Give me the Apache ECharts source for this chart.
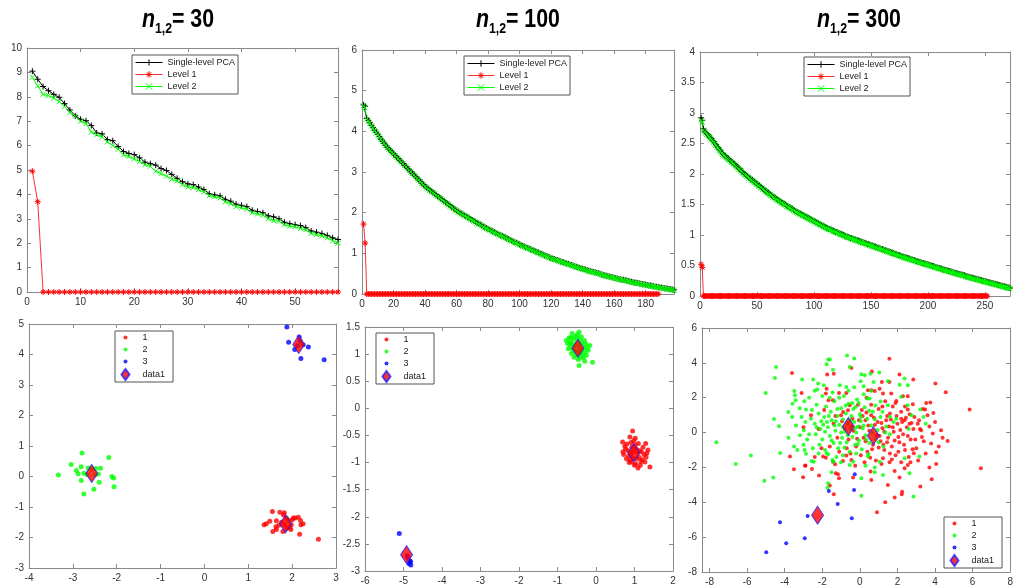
<!DOCTYPE html>
<html>
<head>
<meta charset="utf-8">
<script src="https://cdn.jsdelivr.net/npm/echarts@6/dist/echarts.min.js"></script>
<style>
html, body { margin: 0; padding: 0; background: #fff; }
#chart { width: 1016px; height: 588px; }
</style>
</head>
<body>
<div id="chart"></div>
<script>
// ---- eigenvalue curves (index 1..N) ----
var pca30 = [9.05,8.72,8.42,8.25,8.10,7.98,7.72,7.46,7.22,7.08,
  7.02,6.82,6.52,6.48,6.25,6.20,5.96,5.76,5.68,5.63,
  5.50,5.32,5.26,5.20,5.06,4.98,4.82,4.66,4.52,4.43,
  4.40,4.30,4.20,4.03,3.98,3.94,3.80,3.72,3.60,3.55,
  3.50,3.35,3.30,3.25,3.12,3.08,3.00,2.86,2.80,2.76,
  2.72,2.64,2.50,2.45,2.40,2.32,2.22,2.15];
var lv1_30 = [4.95,3.70,0,0,0,0,0,0,0,0,
  0,0,0,0,0,0,0,0,0,0, 0,0,0,0,0,0,0,0,0,0,
  0,0,0,0,0,0,0,0,0,0, 0,0,0,0,0,0,0,0,0,0,
  0,0,0,0,0,0,0,0];
var lv2_30 = [8.80,8.45,8.10,8.05,7.95,7.80,7.60,7.35,7.20,7.00,
  6.90,6.55,6.45,6.35,6.15,6.00,5.85,5.62,5.55,5.45,
  5.35,5.22,5.15,4.95,4.85,4.75,4.62,4.55,4.40,4.30,
  4.28,4.20,4.10,3.95,3.90,3.85,3.70,3.62,3.50,3.45,
  3.40,3.25,3.20,3.15,3.00,2.92,2.90,2.75,2.70,2.68,
  2.60,2.55,2.40,2.35,2.30,2.22,2.10,2.00];

var pca100 = [4.65,4.62,4.32,4.27,4.21,4.15,4.09,4.03,3.98,3.93,
  3.87,3.81,3.76,3.71,3.66,3.61,3.57,3.53,3.49,3.45,
  3.41,3.37,3.33,3.29,3.25,3.21,3.17,3.13,3.09,3.05,
  3.01,2.97,2.93,2.89,2.85,2.81,2.77,2.73,2.69,2.65,
  2.62,2.59,2.56,2.53,2.50,2.47,2.44,2.41,2.38,2.35,
  2.32,2.29,2.26,2.23,2.20,2.17,2.14,2.11,2.08,2.05,
  2.03,2.00,1.98,1.96,1.93,1.91,1.89,1.87,1.84,1.82,
  1.80,1.78,1.75,1.73,1.71,1.69,1.66,1.64,1.62,1.60,
  1.58,1.56,1.54,1.52,1.50,1.48,1.46,1.44,1.43,1.41,
  1.39,1.37,1.35,1.33,1.31,1.29,1.27,1.26,1.24,1.22,
  1.20,1.18,1.17,1.15,1.13,1.12,1.10,1.08,1.07,1.05,
  1.03,1.02,1.00,0.98,0.97,0.95,0.93,0.92,0.90,0.88,
  0.87,0.86,0.84,0.83,0.82,0.80,0.79,0.78,0.76,0.75,
  0.74,0.72,0.71,0.70,0.68,0.67,0.66,0.64,0.63,0.62,
  0.61,0.60,0.58,0.57,0.56,0.55,0.54,0.53,0.52,0.51,
  0.50,0.48,0.47,0.46,0.45,0.44,0.43,0.42,0.41,0.40,
  0.39,0.38,0.37,0.36,0.35,0.35,0.34,0.33,0.32,0.31,
  0.30,0.29,0.28,0.28,0.27,0.26,0.25,0.24,0.24,0.23,
  0.22,0.21,0.21,0.20,0.19,0.18,0.18,0.17,0.16,0.16,
  0.15,0.14,0.14,0.13,0.12,0.12,0.11,0.10];
var lv1_100 = [1.72,1.25,0,0,0,0,0,0,0,0,
  0,0,0,0,0,0,0,0,0,0, 0,0,0,0,0,0,0,0,0,0,
  0,0,0,0,0,0,0,0,0,0, 0,0,0,0,0,0,0,0,0,0,
  0,0,0,0,0,0,0,0,0,0, 0,0,0,0,0,0,0,0,0,0,
  0,0,0,0,0,0,0,0,0,0, 0,0,0,0,0,0,0,0,0,0,
  0,0,0,0,0,0,0,0,0,0, 0,0,0,0,0,0,0,0,0,0,
  0,0,0,0,0,0,0,0,0,0, 0,0,0,0,0,0,0,0,0,0,
  0,0,0,0,0,0,0,0,0,0, 0,0,0,0,0,0,0,0,0,0,
  0,0,0,0,0,0,0,0,0,0, 0,0,0,0,0,0,0,0,0,0,
  0,0,0,0,0,0,0,0,0,0, 0,0,0,0,0,0,0,0];
var lv2_100 = [4.63,4.58,4.30,4.25,4.19,4.13,4.07,4.02,3.96,3.91,
  3.86,3.80,3.75,3.70,3.65,3.60,3.56,3.52,3.48,3.44,
  3.40,3.36,3.32,3.28,3.24,3.20,3.16,3.12,3.08,3.04,
  3.00,2.96,2.92,2.88,2.84,2.80,2.76,2.72,2.68,2.64,
  2.61,2.58,2.55,2.52,2.49,2.46,2.43,2.40,2.37,2.34,
  2.31,2.28,2.25,2.22,2.19,2.16,2.13,2.10,2.07,2.04,
  2.02,1.99,1.97,1.95,1.92,1.90,1.88,1.86,1.83,1.81,
  1.79,1.77,1.74,1.72,1.70,1.68,1.65,1.63,1.61,1.59,
  1.57,1.55,1.53,1.51,1.49,1.47,1.45,1.43,1.42,1.40,
  1.38,1.36,1.34,1.32,1.30,1.28,1.26,1.25,1.23,1.21,
  1.19,1.17,1.16,1.14,1.12,1.11,1.09,1.07,1.06,1.04,
  1.02,1.01,0.99,0.97,0.96,0.94,0.92,0.91,0.89,0.87,
  0.86,0.85,0.83,0.82,0.81,0.79,0.78,0.77,0.75,0.74,
  0.73,0.71,0.70,0.69,0.67,0.66,0.65,0.63,0.62,0.61,
  0.60,0.59,0.57,0.56,0.55,0.54,0.53,0.52,0.51,0.50,
  0.49,0.47,0.46,0.45,0.44,0.43,0.42,0.41,0.40,0.39,
  0.38,0.37,0.36,0.35,0.34,0.34,0.33,0.32,0.31,0.30,
  0.29,0.28,0.27,0.27,0.26,0.25,0.24,0.23,0.23,0.22,
  0.21,0.20,0.20,0.19,0.18,0.17,0.17,0.16,0.15,0.15,
  0.14,0.13,0.13,0.12,0.11,0.11,0.10,0.09];

var pca300 = [2.92,2.88,2.74,2.70,2.68,2.66,2.64,2.62,2.60,2.58,
  2.55,2.53,2.50,2.48,2.45,2.43,2.40,2.38,2.35,2.33,
  2.31,2.30,2.28,2.26,2.25,2.23,2.21,2.20,2.18,2.17,
  2.15,2.13,2.11,2.09,2.08,2.06,2.04,2.02,2.00,1.99,
  1.97,1.96,1.94,1.93,1.91,1.90,1.88,1.87,1.85,1.84,
  1.82,1.81,1.79,1.78,1.76,1.75,1.73,1.72,1.70,1.69,
  1.67,1.66,1.65,1.63,1.62,1.61,1.59,1.58,1.57,1.56,
  1.54,1.53,1.52,1.51,1.50,1.48,1.47,1.46,1.45,1.44,
  1.43,1.41,1.40,1.39,1.38,1.37,1.36,1.35,1.34,1.33,
  1.32,1.31,1.30,1.29,1.28,1.27,1.26,1.25,1.24,1.23,
  1.22,1.21,1.20,1.19,1.18,1.17,1.16,1.15,1.14,1.13,
  1.12,1.11,1.10,1.10,1.09,1.08,1.07,1.06,1.05,1.05,
  1.04,1.03,1.02,1.01,1.01,1.00,0.99,0.98,0.97,0.97,
  0.96,0.95,0.95,0.94,0.93,0.93,0.92,0.91,0.91,0.90,
  0.89,0.89,0.88,0.87,0.87,0.86,0.85,0.85,0.84,0.83,
  0.83,0.82,0.81,0.81,0.80,0.79,0.79,0.78,0.77,0.77,
  0.76,0.75,0.75,0.74,0.73,0.73,0.72,0.71,0.71,0.70,
  0.69,0.69,0.68,0.67,0.67,0.66,0.65,0.65,0.64,0.63,
  0.63,0.62,0.62,0.61,0.60,0.60,0.59,0.59,0.58,0.57,
  0.57,0.56,0.56,0.55,0.54,0.54,0.53,0.53,0.52,0.52,
  0.51,0.50,0.50,0.49,0.49,0.48,0.47,0.47,0.46,0.46,
  0.45,0.45,0.44,0.43,0.43,0.42,0.42,0.41,0.41,0.40,
  0.40,0.39,0.38,0.38,0.37,0.37,0.36,0.36,0.35,0.35,
  0.34,0.34,0.33,0.32,0.32,0.31,0.31,0.30,0.30,0.29,
  0.29,0.28,0.28,0.27,0.27,0.26,0.26,0.25,0.25,0.24,
  0.24,0.23,0.23,0.22,0.22,0.21,0.21,0.20,0.20,0.19,
  0.19,0.18,0.18,0.17,0.17,0.16,0.16,0.15,0.15,0.14,
  0.14,0.13];
var lv1_300 = [0.52,0.47,0,0,0,0,0,0,0,0,
  0,0,0,0,0,0,0,0,0,0, 0,0,0,0,0,0,0,0,0,0,
  0,0,0,0,0,0,0,0,0,0, 0,0,0,0,0,0,0,0,0,0,
  0,0,0,0,0,0,0,0,0,0, 0,0,0,0,0,0,0,0,0,0,
  0,0,0,0,0,0,0,0,0,0, 0,0,0,0,0,0,0,0,0,0,
  0,0,0,0,0,0,0,0,0,0, 0,0,0,0,0,0,0,0,0,0,
  0,0,0,0,0,0,0,0,0,0, 0,0,0,0,0,0,0,0,0,0,
  0,0,0,0,0,0,0,0,0,0, 0,0,0,0,0,0,0,0,0,0,
  0,0,0,0,0,0,0,0,0,0, 0,0,0,0,0,0,0,0,0,0,
  0,0,0,0,0,0,0,0,0,0, 0,0,0,0,0,0,0,0,0,0,
  0,0,0,0,0,0,0,0,0,0, 0,0,0,0,0,0,0,0,0,0,
  0,0,0,0,0,0,0,0,0,0, 0,0,0,0,0,0,0,0,0,0,
  0,0,0,0,0,0,0,0,0,0, 0,0,0,0,0,0,0,0,0,0,
  0,0];
var lv2_300 = [2.88,2.85,2.72,2.69,2.67,2.65,2.63,2.61,2.59,2.57,
  2.54,2.52,2.49,2.47,2.44,2.42,2.39,2.37,2.34,2.32,
  2.30,2.29,2.27,2.25,2.24,2.22,2.20,2.19,2.17,2.16,
  2.14,2.12,2.10,2.08,2.07,2.05,2.03,2.01,1.99,1.98,
  1.96,1.95,1.93,1.92,1.90,1.89,1.87,1.86,1.84,1.83,
  1.81,1.80,1.78,1.77,1.75,1.74,1.72,1.71,1.69,1.68,
  1.66,1.65,1.64,1.62,1.61,1.60,1.58,1.57,1.56,1.55,
  1.53,1.52,1.51,1.50,1.49,1.47,1.46,1.45,1.44,1.43,
  1.42,1.40,1.39,1.38,1.37,1.36,1.35,1.34,1.33,1.32,
  1.31,1.30,1.29,1.28,1.27,1.26,1.25,1.24,1.23,1.22,
  1.21,1.20,1.19,1.18,1.17,1.16,1.15,1.14,1.13,1.12,
  1.11,1.10,1.09,1.09,1.08,1.07,1.06,1.05,1.04,1.04,
  1.03,1.02,1.01,1.00,1.00,0.99,0.98,0.97,0.96,0.96,
  0.95,0.94,0.94,0.93,0.92,0.92,0.91,0.90,0.90,0.89,
  0.88,0.88,0.87,0.86,0.86,0.85,0.84,0.84,0.83,0.82,
  0.82,0.81,0.80,0.80,0.79,0.78,0.78,0.77,0.76,0.76,
  0.75,0.74,0.74,0.73,0.72,0.72,0.71,0.70,0.70,0.69,
  0.68,0.68,0.67,0.66,0.66,0.65,0.64,0.64,0.63,0.62,
  0.62,0.61,0.61,0.60,0.59,0.59,0.58,0.58,0.57,0.56,
  0.56,0.55,0.55,0.54,0.53,0.53,0.52,0.52,0.51,0.51,
  0.50,0.49,0.49,0.48,0.48,0.47,0.46,0.46,0.45,0.45,
  0.44,0.44,0.43,0.42,0.42,0.41,0.41,0.40,0.40,0.39,
  0.39,0.38,0.37,0.37,0.36,0.36,0.35,0.35,0.34,0.34,
  0.33,0.33,0.32,0.31,0.31,0.30,0.30,0.29,0.29,0.28,
  0.28,0.27,0.27,0.26,0.26,0.25,0.25,0.24,0.24,0.23,
  0.23,0.22,0.22,0.21,0.21,0.20,0.20,0.19,0.19,0.18,
  0.18,0.17,0.17,0.16,0.16,0.15,0.15,0.14,0.14,0.13,
  0.13,0.12];

// ---- cluster scatter, n = 30 ----
var g1_30 = [[1.36,-1.58],[1.41,-1.55],[1.49,-1.47],[1.55,-1.15],[1.56,-1.80],[1.64,-1.45],[1.63,-1.65],[1.64,-1.74],
  [1.72,-1.17],[1.80,-1.25],[1.82,-1.19],[1.79,-1.80],[1.87,-1.36],[1.89,-1.69],[1.98,-1.58],[2.00,-1.42],[1.97,-1.74],
  [2.03,-1.36],[2.07,-1.36],[2.14,-1.34],[2.19,-1.44],[2.20,-1.58],[2.25,-1.55],[2.17,-1.89],[2.60,-2.06],[1.92,-1.44],
  [1.83,-1.58],[1.76,-1.50],[1.95,-1.66],[1.70,-1.60]];
var g2_30 = [[-3.33,0.05],[-3.04,0.39],[-2.92,0.20],[-2.88,0.09],[-2.81,0.32],[-2.79,0.77],[-2.81,-0.13],[-2.75,-0.57],
  [-2.75,0.11],[-2.65,0.28],[-2.57,0.25],[-2.52,-0.42],[-2.48,0.26],[-2.42,0.08],[-2.40,-0.19],[-2.37,0.27],[-2.18,0.62],
  [-2.11,0.00],[-2.07,-0.05],[-2.06,-0.34],[-2.68,0.06],[-2.49,0.06]];
var g3_30 = [[1.88,4.90],[1.92,4.40],[2.06,4.16],[2.16,4.57],[2.20,3.87],[2.37,4.25],[2.73,3.83],[2.25,4.32],[2.12,4.29],[2.18,4.45]];
var ctr_30 = [[-2.57,0.10],[1.85,-1.55],[2.15,4.33]];

// ---- cluster scatter, n = 100 ----
var g1_100 = [[0.95,-0.42],[0.69,-0.62],[0.70,-0.80],[0.88,-0.53],[1.29,-0.65],[1.40,-1.08],[1.09,-1.10],[1.27,-0.99],
  [0.79,-0.93],[1.18,-0.80],[1.35,-0.77],[0.92,-0.99],[1.01,-0.68],[0.75,-0.70],[0.83,-0.78],[0.90,-0.85],[1.05,-0.75],
  [1.12,-0.90],[1.20,-0.95],[0.97,-0.92],[1.03,-1.02],[0.86,-1.00],[1.15,-1.05],[1.22,-0.72],[0.80,-0.66],[0.93,-0.72],
  [1.08,-0.82],[1.25,-0.85],[0.72,-0.85],[0.98,-0.60],[1.10,-0.65],[0.85,-0.88],[1.00,-1.05],[1.17,-0.98],[1.30,-0.90],
  [0.77,-0.75],[0.95,-0.80],[1.06,-0.93],[1.13,-0.78],[0.88,-0.95],[1.02,-0.55],[0.91,-0.63],[1.32,-0.83]];
var g2_100 = [[-0.77,1.25],[-0.72,1.10],[-0.62,1.38],[-0.44,1.41],[-0.27,1.19],[-0.16,1.16],[-0.09,0.85],[-0.44,0.79],
  [-0.29,0.87],[-0.58,1.28],[-0.64,1.01],[-0.52,0.98],[-0.25,0.98],[-0.20,1.07],[-0.68,1.17],[-0.38,1.32],[-0.49,1.21],
  [-0.35,1.04],[-0.59,1.07],[-0.70,1.30],[-0.66,1.22],[-0.55,1.15],[-0.42,1.25],[-0.31,1.13],[-0.40,0.95],[-0.53,1.33],
  [-0.61,1.19],[-0.47,1.05],[-0.36,1.20],[-0.28,1.05],[-0.23,1.12],[-0.57,0.94],[-0.46,0.90],[-0.33,0.93],[-0.74,1.20],
  [-0.50,1.30],[-0.65,1.30],[-0.43,1.15],[-0.38,1.08],[-0.55,1.05],[-0.30,1.25],[-0.62,1.12],[-0.48,1.36],[-0.41,1.02],
  [-0.35,0.97]];
var g3_100 = [[-5.11,-2.31],[-4.83,-2.83],[-4.81,-2.89],[-4.82,-2.82],[-4.88,-2.77],[-4.90,-2.72],[-4.86,-2.86]];
var ctr_100 = [[-0.47,1.11],[0.98,-0.82],[-4.92,-2.70]];

// ---- cluster scatter, n = 300 ----
var g1_300 = [[1.57,4.24],[-3.61,3.42],[-3.10,2.27],[-1.74,3.33],[-1.39,3.38],[-1.77,2.52],[-1.81,2.24],[-1.67,1.85],
  [-1.43,1.85],[-1.11,2.27],[-0.72,2.27],[-0.54,1.57],[-0.63,1.28],[-0.89,1.18],[-0.45,3.70],[0.64,3.51],[1.17,2.90],
  [1.57,2.90],[2.11,3.33],[2.84,3.04],[4.02,2.81],[4.57,2.31],[5.84,1.32],[0.43,2.43],[0.61,2.43],[0.79,2.39],[1.05,2.52],
  [1.23,2.24],[1.67,2.24],[1.94,1.81],[2.29,2.08],[2.55,2.08],[2.82,1.62],[3.53,1.70],[3.75,1.72],[3.91,1.12],[3.47,1.32],
  [2.55,1.32],[2.20,0.80],[2.38,0.70],[2.64,0.51],[3.08,0.51],[3.26,0.13],[3.88,-0.06],[4.32,0.13],[4.67,-0.48],[3.79,-0.63],
  [-3.72,-1.38],[-3.51,-2.11],[-3.02,-2.57],[-2.91,-1.89],[-2.55,-2.09],[-2.17,-2.47],[-2.04,-0.90],[-1.96,-1.38],
  [-1.81,-1.44],[-1.43,-1.67],[-1.32,-1.82],[-0.90,-1.63],[-0.72,-1.32],[-0.45,-1.57],[-0.36,-2.58],[-1.39,-3.54],
  [-1.60,-3.04],[-1.11,-2.62],[-1.16,-2.39],[-1.28,-2.34],[6.44,-2.05],[0.91,-4.57],[1.35,-4.00],[1.85,-3.73],[2.25,-3.39],
  [2.23,-3.54],[3.22,-3.10],[3.82,-2.68],[3.70,-2.01],[4.06,-1.80],[4.06,-1.13],[2.87,-1.19],[2.69,-1.71],[2.55,-1.86],
  [2.38,-2.05],[2.11,-2.58],[1.49,-3.01],[1.85,-2.20],[1.58,-1.71],[1.23,-1.48],[0.61,-2.72],[0.57,-2.24],[-3.00,0.30],
  [-2.90,-1.90],[4.40,-0.30],[4.20,-0.80],
  [-0.80,0.20],[-0.60,-0.40],[-0.40,0.80],[-0.20,-0.80],[0.00,0.30],[0.10,1.30],[0.20,-0.30],[0.30,0.70],[0.40,-1.10],
  [0.50,0.10],[0.60,1.00],[0.70,-0.70],[0.80,0.45],[0.90,-0.15],[1.00,1.35],[1.10,-0.50],[1.20,0.25],[1.30,-1.00],
  [1.40,0.70],[1.50,-0.30],[1.60,1.10],[1.70,-0.80],[1.80,0.05],[1.90,-1.30],[2.00,0.50],[2.10,-0.55],[2.20,1.20],
  [2.30,-0.10],[2.40,-1.00],[2.50,0.30],[2.70,-0.40],[2.90,0.90],[3.00,-0.90],[3.20,0.20],[3.40,-0.50],[3.60,1.00],
  [-1.20,-0.30],[-1.40,0.50],[-1.60,-0.80],[-1.00,1.00],[-0.50,-1.20],[-0.10,1.60],[0.35,2.00],[1.35,1.80],[1.75,1.50],
  [2.60,-1.40],[3.10,-1.60],[1.15,-1.80],[0.25,-1.70],[-0.25,-1.90],[0.65,-0.95],[1.55,0.35],[2.15,0.15],[0.95,0.60],
  [1.85,-0.45],[0.15,0.95],[-0.65,0.50],[2.75,0.55],[3.50,-1.20],[-2.40,-1.40],[-2.20,0.20],[-2.60,1.00],[-1.90,1.30],
  [-0.35,0.10],[0.45,0.40],[1.05,-0.20],[1.65,0.75],[2.45,0.85],[2.05,-1.10],[1.25,-0.70],
  [0.30,-0.50],[0.55,-1.45],[0.75,0.85],[1.00,-0.85],[1.15,0.55],[1.30,0.05],[1.45,-0.55],[1.60,-1.20],[1.75,0.30],
  [1.95,0.95],[2.05,-0.25],[2.25,0.60],[2.35,-0.70],[2.55,-0.20],[2.65,1.05],[2.85,0.20],[2.95,-0.40],[3.15,0.70],
  [3.30,-0.25],[3.70,0.35],[-0.15,-0.35],[-0.45,0.35],[-0.70,-0.90],[-0.95,0.65],[-1.10,-1.10],[-1.30,0.95],[0.05,-1.30],
  [0.60,1.60],[1.20,1.50],[1.90,1.70],[2.40,1.50],[0.85,-1.60],[1.70,-1.55],[2.20,-1.70],[-0.05,0.70],[0.35,1.15],
  [1.45,0.95],[2.80,-0.95],[3.35,1.35],[4.00,0.60]];
var g2_300 = [[-7.63,-0.56],[-6.60,-1.80],[-5.80,-1.32],[-4.24,-1.17],[-5.08,-2.76],[-4.61,-2.58],[-4.46,3.76],[-4.52,3.13],
  [-5.01,2.27],[-3.81,1.18],[-4.57,0.78],[-4.30,0.36],[-3.49,2.39],[-3.46,2.14],[-3.42,1.85],[-3.58,1.66],[-3.07,3.04],
  [-2.96,1.79],[-3.10,0.89],[-3.19,-0.16],[-2.98,0.13],[-2.87,1.32],[-2.49,3.04],[-2.27,2.47],[-2.22,2.81],[-1.92,2.71],
  [-1.77,3.92],[-1.60,4.19],[-1.69,4.19],[-1.43,3.61],[-0.68,4.42],[-0.54,3.76],[-1.07,2.71],[-0.72,2.61],[-0.30,4.25],
  [1.03,3.44],[0.57,3.38],[0.08,3.34],[0.26,3.29],[0.04,2.94],[0.20,2.66],[0.73,2.90],[1.49,2.94],[2.11,2.75],[2.38,3.10],
  [2.55,2.71],[0.38,1.95],[0.52,1.95],[1.10,1.78],[0.82,1.55],[1.49,1.57],[-0.06,1.70],[-0.24,1.47],[3.21,1.32],[3.38,0.89],
  [2.55,1.57],[1.94,0.80],[1.60,0.89],[-3.33,-1.00],[-2.94,-1.00],[-2.87,-1.21],[-2.57,-1.63],[-2.45,-1.67],[-1.77,-1.19],
  [-1.69,-1.25],[-1.46,-1.57],[-1.39,-1.67],[-0.54,-1.86],[-0.36,-1.67],[-1.51,-2.28],[-1.69,-2.91],[-1.72,-3.16],
  [2.85,-3.67],[0.08,-3.62],[0.43,-1.38],[0.79,-2.28],[1.23,-2.43],[2.64,-2.34],[3.17,-1.38],[2.38,-1.48],[0.08,-2.62],
  [0.79,-2.01],[1.05,-1.67],[2.20,2.05],[2.75,1.00],[3.50,0.50],[2.60,0.20],
  [-2.60,0.80],[-2.40,0.50],[-2.20,1.10],[-2.10,0.20],[-2.00,-0.40],[-1.90,0.90],[-1.80,1.50],[-1.70,0.30],[-1.60,-0.20],
  [-1.55,1.20],[-1.50,0.70],[-1.40,-0.60],[-1.35,1.80],[-1.30,0.10],[-1.20,0.95],[-1.15,-0.90],[-1.10,0.45],[-1.00,1.40],
  [-0.95,-0.30],[-0.90,0.75],[-0.85,2.10],[-0.80,0.05],[-0.75,1.10],[-0.70,-0.55],[-0.65,0.55],[-0.60,1.65],[-0.55,-1.10],
  [-0.50,0.20],[-0.45,0.95],[-0.40,-0.25],[-0.35,1.35],[-0.30,0.60],[-0.25,-0.70],[-0.20,0.00],[-0.15,1.90],[-0.10,0.35],
  [-0.05,-0.45],[0.00,1.05],[0.05,0.65],[0.10,-0.95],[0.15,0.25],[0.25,1.45],[0.30,-0.15],[0.40,0.80],[0.50,-0.60],
  [0.60,0.40],[0.70,1.20],[0.85,-0.35],[0.95,0.15],[1.10,0.90],[1.25,-0.80],[1.40,0.35],[1.60,-0.10],[1.80,0.60],
  [-2.80,-0.40],[-2.50,-0.90],[-2.30,1.60],[-2.00,2.10],[-1.85,-1.00],[-1.45,2.30],[-1.25,-1.40],[-0.90,-1.30],[-0.60,2.40],
  [-0.20,-1.20],[0.20,2.20],[0.45,-1.25],[-3.40,0.40],[-3.00,-0.70],[-2.70,2.00],[-1.00,0.00],[-1.75,0.60],[-2.35,-0.10],
  [-1.95,0.45],[-1.28,0.65],[-0.82,-0.85],
  [-3.60,0.90],[-3.20,1.40],[-2.90,0.60],[-2.70,-0.10],[-2.55,1.30],[-2.30,0.30],[-2.15,-0.70],[-2.05,0.65],[-1.85,0.05],
  [-1.65,0.95],[-1.50,-0.45],[-1.35,0.40],[-1.20,1.35],[-1.05,-0.60],[-0.90,0.30],[-0.75,1.55],[-0.65,-0.15],[-0.50,0.70],
  [-0.40,1.70],[-0.25,0.25],[-0.10,-0.65],[0.05,0.90],[0.20,0.40],[0.35,-0.40],[0.50,1.25],[0.65,0.00],[0.80,0.75],
  [1.00,-0.55],[1.20,1.20],[1.35,0.00],[-1.60,2.00],[-1.10,2.00],[-2.40,2.40],[-0.30,2.60],[0.60,2.40],[-3.80,-0.30],
  [-3.50,-0.80],[-2.20,-1.20],[-1.00,-1.70],[0.30,-1.90]];
var g3_300 = [[-1.65,-3.35],[-1.18,-4.10],[-2.78,-4.79],[-4.25,-5.15],[-2.93,-6.07],[-3.92,-6.35],[-4.98,-6.87],
  [-0.43,-4.92],[-0.31,-3.29],[-0.27,-2.39]];
var ctr_300 = [[-0.61,0.35],[0.72,-0.18],[-2.25,-4.74]];

// ---- titles / axes ----
var panelN = ['30', '100', '300'];
var xTicks6 = [-8, -6, -4, -2, 0, 2, 4, 6, 8];

var FONT = '"Liberation Sans", Arial, sans-serif';
var AX = '#8a8a8a';
var PLUS = 'path://M5,0L5,10M0,5L10,5';
var STAR = 'path://M5,0L5,10M0,5L10,5M1.5,1.5L8.5,8.5M8.5,1.5L1.5,8.5';
var CROSS = 'path://M0,0L10,10M10,0L0,10';
var DOT = 'path://M0,0M11,11M3.5,5.5A2,2,0,0,1,7.5,5.5A2,2,0,0,1,3.5,5.5Z';
var DIAM = 'path://M4,0L8,5.5L4,11L0,5.5Z';

var grids = [
  { left: 27, top: 48, width: 311, height: 244 },
  { left: 362, top: 50, width: 312, height: 244 },
  { left: 700, top: 52, width: 310, height: 244 },
  { left: 29, top: 324, width: 307, height: 244 },
  { left: 365, top: 327, width: 308, height: 244 },
  { left: 702, top: 328, width: 309, height: 244 }
];
var xs = [[0, 58, 10], [0, 198, 20], [0, 272, 50], [-4, 3, 1], [-6, 2, 1], [-8.4, 8, 2]];
var ys = [[0, 10, 1], [0, 6, 1], [0, 4, 0.5], [-3, 5, 1], [-3, 1.5, 0.5], [-8, 6, 2]];

function axis(dim, g, r, pos, labels) {
  var a = {
    type: 'value', gridIndex: g, position: pos, min: r[0], max: r[1],
    axisLine: { show: true, onZero: false, lineStyle: { color: AX, width: 1 } },
    axisTick: { show: true, inside: true, length: 4, lineStyle: { color: AX } },
    axisLabel: { show: labels, color: '#333', fontSize: 10, fontFamily: FONT, margin: 5,
      showMaxLabel: dim === 'y' || g > 2 },
    splitLine: { show: false }
  };
  if (dim === 'x' && g === 5) {
    a.axisTick.customValues = xTicks6;
    a.axisLabel.customValues = xTicks6;
  } else {
    a.interval = r[2];
  }
  return a;
}

var xAxes = [], yAxes = [];
for (var g = 0; g < 6; g++) {
  xAxes.push(axis('x', g, xs[g], 'bottom', true));
  yAxes.push(axis('y', g, ys[g], 'left', true));
}
for (var g = 0; g < 6; g++) {
  xAxes.push(axis('x', g, xs[g], 'top', false));
  yAxes.push(axis('y', g, ys[g], 'right', false));
}

function xy(arr) { return arr.map(function (v, i) { return [i + 1, v]; }); }

var series = [];
var curves = [[pca30, lv1_30, lv2_30], [pca100, lv1_100, lv2_100], [pca300, lv1_300, lv2_300]];
curves.forEach(function (c, g) {
  series.push({ type: 'line', name: 'Single-level PCA', xAxisIndex: g, yAxisIndex: g, data: xy(c[0]),
    symbol: PLUS, symbolSize: 6, lineStyle: { color: '#000', width: 1 },
    itemStyle: { color: '#000', borderColor: '#000', borderWidth: 1 } });
  series.push({ type: 'line', name: 'Level 1', xAxisIndex: g, yAxisIndex: g, data: xy(c[1]),
    symbol: STAR, symbolSize: 6, lineStyle: { color: '#ff3030', width: 1 },
    itemStyle: { color: '#ff0000', borderColor: '#ff0000', borderWidth: 1 } });
  series.push({ type: 'line', name: 'Level 2', xAxisIndex: g, yAxisIndex: g, data: xy(c[2]),
    symbol: CROSS, symbolSize: 5, lineStyle: { color: '#00ff00', width: 1 },
    itemStyle: { color: '#00ff00', borderColor: '#00ff00', borderWidth: 1 } });
});

var clusters = [[g1_30, g2_30, g3_30, ctr_30], [g1_100, g2_100, g3_100, ctr_100], [g1_300, g2_300, g3_300, ctr_300]];
var dotColors = ['#ff0000', '#00ff00', '#0000ff'];
clusters.forEach(function (c, k) {
  var g = k + 3;
  for (var j = 0; j < 3; j++) {
    series.push({ type: 'scatter', name: String(j + 1), xAxisIndex: g, yAxisIndex: g, data: c[j],
      symbol: 'circle', symbolSize: k === 2 ? 4 : 5, itemStyle: { color: dotColors[j] } });
  }
  series.push({ type: 'scatter', name: 'data1', xAxisIndex: g, yAxisIndex: g, data: c[3], z: 5,
    symbol: 'diamond', symbolSize: [12, 18],
    itemStyle: { color: '#ff0000', borderColor: '#2020ff', borderWidth: 1 } });
});

function lineLegend(left, top) {
  return { left: left, top: top, orient: 'vertical', selectedMode: false,
    data: ['Single-level PCA', 'Level 1', 'Level 2'],
    itemWidth: 27, itemHeight: 8, itemGap: 3, padding: [3, 3, 3, 3],
    lineStyle: { width: 1 }, itemStyle: { borderWidth: 1 },
    backgroundColor: '#fff', borderColor: '#555', borderWidth: 1, borderRadius: 0,
    textStyle: { fontSize: 9, color: '#222', fontFamily: FONT } };
}
function dotLegend(left, top) {
  return { left: left, top: top, orient: 'vertical', selectedMode: false,
    data: [{ name: '1', icon: DOT }, { name: '2', icon: DOT }, { name: '3', icon: DOT }, { name: 'data1', icon: DIAM }],
    itemWidth: 24, itemHeight: 11, itemGap: 1, padding: [1, 8, 1, 5],
    backgroundColor: '#fff', borderColor: '#555', borderWidth: 1, borderRadius: 0,
    textStyle: { fontSize: 9, color: '#222', fontFamily: FONT } };
}

var titleX = [142, 476, 817];
var graphics = [];
panelN.forEach(function (n, i) {
  var x0 = titleX[i];
  graphics.push({ type: 'text', x: x0, y: 33, scaleX: 0.82, silent: true,
    style: { text: 'n', fontSize: 26, fontWeight: 'bold', fontStyle: 'italic', fontFamily: FONT,
      fill: '#000', verticalAlign: 'bottom' } });
  graphics.push({ type: 'text', x: x0 + 13, y: 36, scaleX: 0.82, silent: true,
    style: { text: '1,2', fontSize: 15, fontWeight: 'bold', fontFamily: FONT, fill: '#000', verticalAlign: 'bottom' } });
  graphics.push({ type: 'text', x: x0 + 30, y: 33, scaleX: 0.82, silent: true,
    style: { text: '= ' + n, fontSize: 26, fontWeight: 'bold', fontFamily: FONT, fill: '#000', verticalAlign: 'bottom' } });
});

var myChart = echarts.init(document.getElementById('chart'));
myChart.setOption({
  animation: false,
  backgroundColor: '#fff',
  grid: grids,
  xAxis: xAxes,
  yAxis: yAxes,
  legend: [lineLegend(132, 55), lineLegend(464, 56), lineLegend(804, 57),
    dotLegend(115, 331), dotLegend(376, 333), dotLegend(944, 517)],
  graphic: graphics,
  series: series
});
</script>
</body>
</html>
